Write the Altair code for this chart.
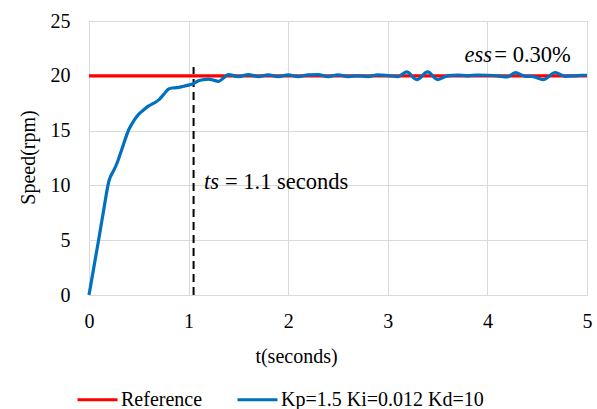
import altair as alt
import pandas as pd

# Reference speed
ref_t = [0, 5]
ref_v = [20, 20]

# PID response (Kp=1.5 Ki=0.012 Kd=10)
pid_t = [0, 0.05, 0.1, 0.15, 0.2, 0.25, 0.28, 0.33, 0.4, 0.45, 0.5, 0.55, 0.6, 0.65,
         0.7, 0.75, 0.8, 0.85, 0.9, 0.95, 1.0, 1.05, 1.1, 1.15, 1.2, 1.25, 1.3, 1.35,
         1.4, 1.5, 1.6, 1.7, 1.8, 1.9, 2.0, 2.1, 2.2, 2.3, 2.4, 2.5, 2.6, 2.7, 2.8,
         2.9, 3.0, 3.1, 3.19, 3.29, 3.4, 3.5, 3.6, 3.7, 3.8, 3.9, 4.0, 4.1, 4.2, 4.28,
         4.38, 4.45, 4.56, 4.68, 4.78, 4.88, 4.95, 5.0]
pid_v = [0, 2.6, 5.2, 7.9, 10.4, 11.4, 12.0, 13.3, 15.1, 15.9, 16.5, 16.9, 17.25, 17.5,
         17.8, 18.3, 18.8, 18.9, 18.95, 19.05, 19.15, 19.3, 19.55, 19.65, 19.7, 19.6, 19.5, 19.8,
         20.1, 19.93, 20.1, 19.93, 20.08, 19.93, 20.08, 19.93, 20.08, 20.1, 19.93, 20.08, 19.93, 20.0, 19.93,
         20.08, 20.02, 19.93, 20.35, 19.65, 20.35, 19.65, 20.0, 20.07, 20.0, 20.07, 20.05, 20.0, 19.9, 20.3,
         19.95, 19.95, 19.65, 20.3, 19.95, 20.0, 20.05, 20.05]

series_names = ["Reference", "Kp=1.5 Ki=0.012 Kd=10"]
series_colors = ["#FF0000", "#0070C0"]

# Settling time marker
ts_t = [1.05, 1.05]
ts_v = [0, 20.8]

# Annotations
ann_text = ["ts", "= 1.1 seconds", "ess", "= 0.30%"]
ann_t = [1.155, 1.365, 3.77, 4.07]
ann_v = [9.67, 9.67, 21.26, 21.26]
ann_style = ["italic", "normal", "italic", "normal"]

FONT = "Liberation Serif"

df = pd.concat([
    pd.DataFrame({"t": ref_t, "v": ref_v, "series": series_names[0], "o": 0}),
    pd.DataFrame({"t": pid_t, "v": pid_v, "series": series_names[1], "o": 1}),
])

color = alt.Color("series:N",
                  scale=alt.Scale(domain=series_names, range=series_colors),
                  legend=alt.Legend(title=None, orient="none", direction="horizontal",
                                    legendX=-13, legendY=357,
                                    symbolType="stroke", symbolSize=1600,
                                    symbolStrokeWidth=3, labelFont=FONT,
                                    labelFontSize=20, labelColor="#000", labelLimit=400,
                                    columnPadding=28, labelOffset=2))

xaxis = alt.Axis(values=[0, 1, 2, 3, 4, 5], format="d", title="t(seconds)", grid=True,
                 gridColor="#D9D9D9", domainColor="#D9D9D9", ticks=False, labelFlush=False,
                 labelFont=FONT, labelFontSize=20, labelColor="#000", labelPadding=16,
                 titleFont=FONT, titleFontSize=20, titleFontWeight="normal",
                 titleColor="#000", titleX=207, titleY=67, titleBaseline="alphabetic",
                 titleAnchor="start", titleAlign="center")
yaxis = alt.Axis(values=[0, 5, 10, 15, 20, 25], format="d", title="Speed(rpm)", grid=True,
                 gridColor="#D9D9D9", domainColor="#D9D9D9", ticks=False, labelFlush=False,
                 labelFont=FONT, labelFontSize=20, labelColor="#000", labelPadding=19,
                 titleFont=FONT, titleFontSize=20, titleFontWeight="normal",
                 titleColor="#000", titleX=-61, titleY=136, titleBaseline="middle",
                 titleAlign="center", titleAngle=270)

x = alt.X("t:Q", scale=alt.Scale(domain=[0, 5], nice=False), axis=xaxis)
y = alt.Y("v:Q", scale=alt.Scale(domain=[0, 25], nice=False), axis=yaxis)

lines = alt.Chart(df).mark_line(strokeWidth=3.2, interpolate="monotone").encode(
    x=x, y=y, color=color, detail="series:N", order="t:Q"
)
ref_line = lines.transform_filter(alt.datum.o == 0)
pid_line = lines.transform_filter(alt.datum.o == 1)

dash = alt.Chart(pd.DataFrame({"t": ts_t, "v": ts_v})).mark_line(
    color="#000", strokeWidth=2, strokeDash=[8, 5]
).encode(x="t:Q", y="v:Q")

ann = pd.DataFrame({"t": ann_t, "v": ann_v, "text": ann_text, "style": ann_style})
txt_it = alt.Chart(ann).transform_filter(alt.datum.style == "italic").mark_text(
    font=FONT, fontSize=22.5, fontStyle="italic", align="left", baseline="alphabetic", color="#000"
).encode(x="t:Q", y="v:Q", text="text:N")
txt_n = alt.Chart(ann).transform_filter(alt.datum.style == "normal").mark_text(
    font=FONT, fontSize=22.5, align="left", baseline="alphabetic", color="#000"
).encode(x="t:Q", y="v:Q", text="text:N")

chart = alt.layer(dash, ref_line, pid_line, txt_it, txt_n).properties(
    width=498, height=274,
    autosize=alt.AutoSizeParams(type="none"),
    padding={"left": 89, "top": 21, "right": 10, "bottom": 114},
    background="white",
).configure_view(stroke=None).configure(font=FONT)

chart.save("out.html", embed_options={"renderer": "svg", "actions": False})
